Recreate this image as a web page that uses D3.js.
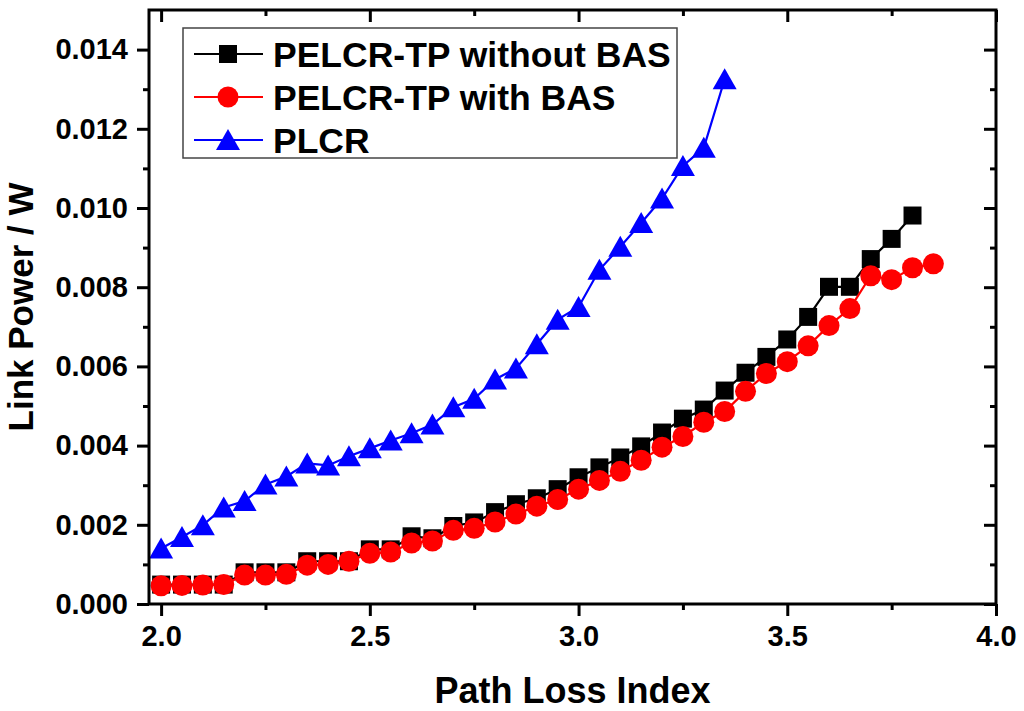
<!DOCTYPE html>
<html>
<head>
<meta charset="utf-8">
<script src="https://cdn.jsdelivr.net/npm/d3@7/dist/d3.min.js"></script>
<style>
	body { margin: 0; background: #fff; }
	svg { display: block; font-family: "Liberation Sans", Arial, sans-serif; font-weight: bold; }
</style>
</head>
<body>
<div id="chart"></div>
<script>
// path loss index values
var xNoBas   = [2.0, 2.05, 2.1, 2.15, 2.2, 2.25, 2.3, 2.35, 2.4, 2.45, 2.5, 2.55, 2.6, 2.65, 2.7, 2.75, 2.8, 2.85, 2.9, 2.95, 3.0, 3.05, 3.1, 3.15, 3.2, 3.25, 3.3, 3.35, 3.4, 3.45, 3.5, 3.55, 3.6, 3.65, 3.7, 3.75, 3.8];
var xWithBas = [2.0, 2.05, 2.1, 2.15, 2.2, 2.25, 2.3, 2.35, 2.4, 2.45, 2.5, 2.55, 2.6, 2.65, 2.7, 2.75, 2.8, 2.85, 2.9, 2.95, 3.0, 3.05, 3.1, 3.15, 3.2, 3.25, 3.3, 3.35, 3.4, 3.45, 3.5, 3.55, 3.6, 3.65, 3.7, 3.75, 3.8, 3.85];
var xPlcr    = [2.0, 2.05, 2.1, 2.15, 2.2, 2.25, 2.3, 2.35, 2.4, 2.45, 2.5, 2.55, 2.6, 2.65, 2.7, 2.75, 2.8, 2.85, 2.9, 2.95, 3.0, 3.05, 3.1, 3.15, 3.2, 3.25, 3.3, 3.35];

// link power (W)
var yNoBas   = [0.00049, 0.00049, 0.00049, 0.00049, 0.0008, 0.0008, 0.0008, 0.00108, 0.00108, 0.00108, 0.00138, 0.00138, 0.00171, 0.00166, 0.00197, 0.00206, 0.00232, 0.00252, 0.00267, 0.0029, 0.0032, 0.00345, 0.0037, 0.00398, 0.00433, 0.00468, 0.00491, 0.00539, 0.00584, 0.00624, 0.00668, 0.00725, 0.00801, 0.00801, 0.00871, 0.00922, 0.00981];
var yWithBas = [0.00046, 0.00047, 0.00048, 0.00049, 0.00073, 0.00073, 0.00075, 0.00098, 0.001, 0.00108, 0.00128, 0.00131, 0.00154, 0.00159, 0.00186, 0.00191, 0.00207, 0.00227, 0.00247, 0.00264, 0.0029, 0.00312, 0.00335, 0.00363, 0.00396, 0.00423, 0.00459, 0.00486, 0.00537, 0.00582, 0.00612, 0.00652, 0.00703, 0.00746, 0.00829, 0.00819, 0.00849, 0.00859];
var yPlcr    = [0.0014, 0.00169, 0.00199, 0.00244, 0.0026, 0.00302, 0.00322, 0.00355, 0.0035, 0.00373, 0.00393, 0.00413, 0.00431, 0.00453, 0.00497, 0.00518, 0.00567, 0.00595, 0.00656, 0.00718, 0.0075, 0.00844, 0.00902, 0.00962, 0.01024, 0.01106, 0.01152, 0.01325];

var seriesNames = ['PELCR-TP without BAS', 'PELCR-TP with BAS', 'PLCR'];

var xMajor = [2.0, 2.5, 3.0, 3.5, 4.0];
var xMinor = [2.25, 2.75, 3.25, 3.75];
var yMajor = [0, 0.002, 0.004, 0.006, 0.008, 0.010, 0.012, 0.014];
var yMinor = [0.001, 0.003, 0.005, 0.007, 0.009, 0.011, 0.013];

var width = 1024, height = 711;
var margin = {top: 10, right: 28, bottom: 107, left: 149};
var w = width - margin.left - margin.right;
var h = height - margin.top - margin.bottom;

var svg = d3.select('#chart').append('svg')
	.attr('width', width)
	.attr('height', height);

var g = svg.append('g').attr('transform', 'translate(' + margin.left + ',' + margin.top + ')');

var x = d3.scaleLinear().domain([1.971, 4.0]).range([0, w]);
var y = d3.scaleLinear().domain([0, 0.015]).range([h, 0]);

var series = [
	{name: seriesNames[0], xs: xNoBas,   ys: yNoBas,   color: '#000000', shape: 'square'},
	{name: seriesNames[1], xs: xWithBas, ys: yWithBas, color: '#ff0000', shape: 'circle'},
	{name: seriesNames[2], xs: xPlcr,    ys: yPlcr,    color: '#0000ff', shape: 'triangle'}
];

function markerPath(shape) {
	if (shape === 'square') return 'M-9,-9H9V9H-9Z';
	if (shape === 'circle') return 'M-10.5,0A10.5,10.5 0 1,0 10.5,0A10.5,10.5 0 1,0 -10.5,0Z';
	return 'M0,-11L12,10L-12,10Z';
}

// series lines + markers
series.forEach(function(s){
	var pts = s.xs.map(function(v, i){ return [v, s.ys[i]]; });
	var line = d3.line()
		.x(function(d){ return x(d[0]); })
		.y(function(d){ return y(d[1]); });

	g.append('path')
		.datum(pts)
		.attr('d', line)
		.attr('fill', 'none')
		.attr('stroke', s.color)
		.attr('stroke-width', 2.2);

	g.selectAll('.m-' + s.shape)
		.data(pts)
		.enter().append('path')
		.attr('class', 'm-' + s.shape)
		.attr('transform', function(d){ return 'translate(' + x(d[0]) + ',' + y(d[1]) + ')'; })
		.attr('d', markerPath(s.shape))
		.attr('fill', s.color);
});

// axes
function styleAxis(sel) {
	sel.select('.domain').remove();
	sel.selectAll('line').attr('stroke', '#000').attr('stroke-width', 3);
	sel.selectAll('text').attr('fill', '#000').style('font-size', '29px').style('font-weight', 'bold');
}

var bottom = g.append('g').attr('transform', 'translate(0,' + h + ')')
	.call(d3.axisBottom(x).tickValues(xMajor).tickFormat(d3.format('.1f')).tickSize(12).tickPadding(9));
styleAxis(bottom);
g.append('g').attr('transform', 'translate(0,' + h + ')')
	.call(d3.axisBottom(x).tickValues(xMinor).tickFormat('').tickSize(6)).call(styleAxis);

var left = g.append('g')
	.call(d3.axisLeft(y).tickValues(yMajor).tickFormat(d3.format('.3f')).tickSize(12).tickPadding(9));
styleAxis(left);
g.append('g').call(d3.axisLeft(y).tickValues(yMinor).tickFormat('').tickSize(6)).call(styleAxis);

// top / right mirror axes, ticks inward
g.append('g').call(d3.axisTop(x).tickValues(xMajor).tickFormat('').tickSize(-12)).call(styleAxis);
g.append('g').call(d3.axisTop(x).tickValues(xMinor).tickFormat('').tickSize(-6)).call(styleAxis);
g.append('g').attr('transform', 'translate(' + w + ',0)')
	.call(d3.axisRight(y).tickValues(yMajor).tickFormat('').tickSize(-12)).call(styleAxis);
g.append('g').attr('transform', 'translate(' + w + ',0)')
	.call(d3.axisRight(y).tickValues(yMinor).tickFormat('').tickSize(-6)).call(styleAxis);

g.append('rect')
	.attr('width', w)
	.attr('height', h)
	.attr('fill', 'none')
	.attr('stroke', '#000')
	.attr('stroke-width', 3);

// titles
svg.append('text')
	.attr('x', margin.left + w / 2)
	.attr('y', 703)
	.attr('text-anchor', 'middle')
	.style('font-size', '36px')
	.text('Path Loss Index');

svg.append('text')
	.attr('transform', 'translate(33,' + (margin.top + h / 2) + ') rotate(-90)')
	.attr('text-anchor', 'middle')
	.style('font-size', '35px')
	.text('Link Power / W');

// legend
var legend = svg.append('g').attr('transform', 'translate(183,28)');
legend.append('rect')
	.attr('width', 494)
	.attr('height', 130)
	.attr('fill', '#fff')
	.attr('stroke', '#444')
	.attr('stroke-width', 1.5);

series.forEach(function(s, i){
	var row = legend.append('g').attr('transform', 'translate(0,' + (26 + i * 43) + ')');
	row.append('line')
		.attr('x1', 11).attr('x2', 80)
		.attr('stroke', s.color)
		.attr('stroke-width', 2.2);
	row.append('path')
		.attr('transform', 'translate(45,0)')
		.attr('d', markerPath(s.shape))
		.attr('fill', s.color);
	row.append('text')
		.attr('x', 90)
		.attr('y', 12.5)
		.style('font-size', '35.5px')
		.text(s.name);
});
</script>
</body>
</html>
